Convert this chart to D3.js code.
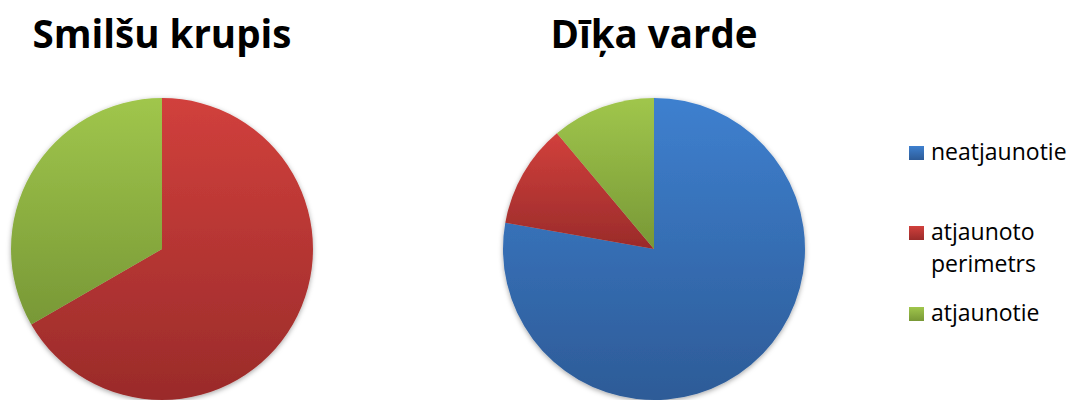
<!DOCTYPE html>
<html><head><meta charset="utf-8">
<script src="https://cdn.jsdelivr.net/npm/d3@7"></script>
<style>
html,body{margin:0;padding:0;background:#fff;}
svg{display:block;}
</style></head>
<body>
<svg id="chart" width="1072" height="400"></svg>
<script>
const categories = ["neatjaunotie", "atjaunoto perimetrs", "atjaunotie"];
const legendLines = [["neatjaunotie"], ["atjaunoto", "perimetrs"], ["atjaunotie"]];
const titles = ["Smilšu krupis", "Dīķa varde"];
const smilsuKrupis = [0, 2, 1];
const dikaVarde = [7, 1, 1];
const seriesValues = [smilsuKrupis, dikaVarde];
const colorsTop = ["#3E80CF", "#D1403C", "#A0C64C"];
const colorsBottom = ["#2D5B97", "#9A2B2A", "#789836"];

const svg = d3.select("#chart");
const defs = svg.append("defs");
categories.forEach((c, i) => {
  const g = defs.append("linearGradient").attr("id", "grad" + i)
    .attr("x1", 0).attr("y1", 0).attr("x2", 0).attr("y2", 1);
  g.append("stop").attr("offset", "0%").attr("stop-color", colorsTop[i]);
  g.append("stop").attr("offset", "100%").attr("stop-color", colorsBottom[i]);
});
const f = defs.append("filter").attr("id", "shadow")
  .attr("x", "-10%").attr("y", "-10%").attr("width", "120%").attr("height", "120%");
f.append("feDropShadow").attr("dx", 0).attr("dy", 1.5).attr("stdDeviation", 2.5)
  .attr("flood-color", "#000").attr("flood-opacity", 0.35);

const centersX = d3.scalePoint().domain(titles).range([162, 654]);
const radius = 151;
const cy = 249;
const pie = d3.pie().sort(null).value(d => d);
const arc = d3.arc().innerRadius(0).outerRadius(radius);

titles.forEach((t, k) => {
  const cx = centersX(t);
  svg.append("text").attr("x", cx).attr("y", 48)
    .attr("text-anchor", "middle")
    .style("font-family", "'Open Sans', sans-serif")
    .style("font-weight", 700).style("font-size", "38.5px").style("fill", "#000")
    .text(t);
  const g = svg.append("g").attr("transform", `translate(${cx},${cy})`);
  const shadowG = g.append("g").attr("filter", "url(#shadow)");
  shadowG.selectAll("path").data(pie(seriesValues[k]).filter(d => d.value > 0))
    .join("path")
    .attr("d", arc)
    .attr("fill", d => `url(#grad${d.index})`);
});

const lg = svg.append("g");
categories.forEach((c, i) => {
  const y = [160, 240, 321][i];
  lg.append("rect").attr("x", 909).attr("y", y - 14).attr("width", 15).attr("height", 14)
    .attr("fill", `url(#grad${i})`);
  const txt = lg.append("text").attr("x", 931).attr("y", y)
    .style("font-family", "'Open Sans', sans-serif")
    .style("font-size", "23px").style("fill", "#000");
  legendLines[i].forEach((line, j) => {
    txt.append("tspan").attr("x", 931).attr("dy", j === 0 ? 0 : 32).text(line);
  });
});
</script>
</body></html>
